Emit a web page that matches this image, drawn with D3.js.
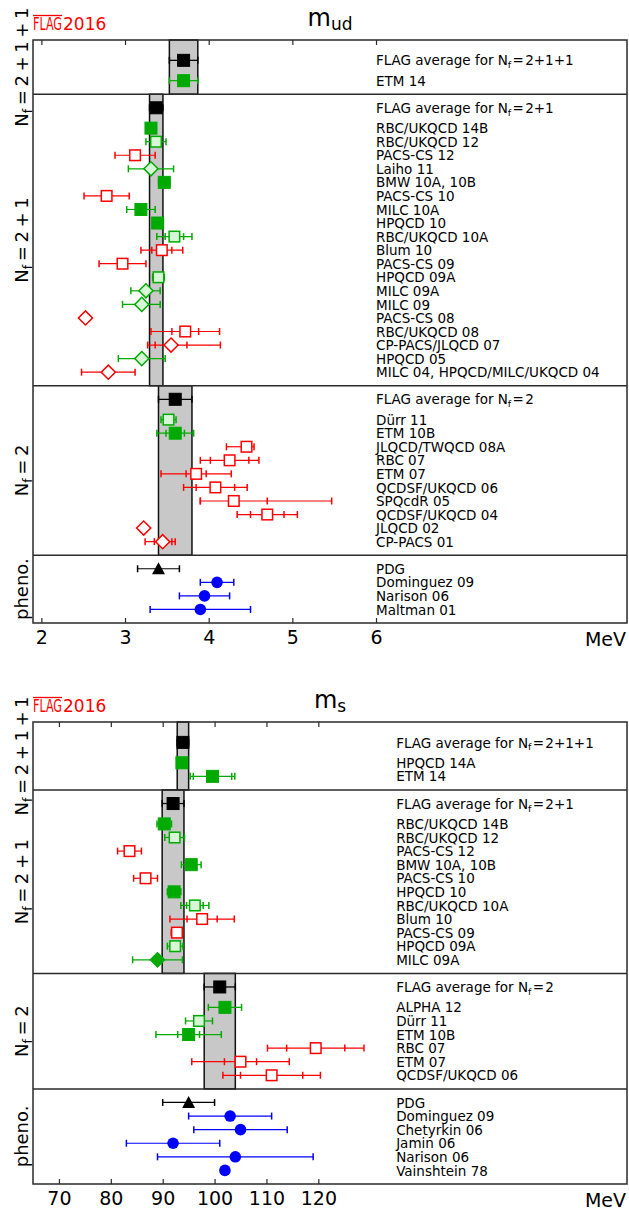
<!DOCTYPE html>
<html>
<head>
<meta charset="utf-8">
<script src="https://cdn.jsdelivr.net/npm/d3@7"></script>
<style>
body { margin: 0; background: #fff; }
svg { font-family: "DejaVu Sans", sans-serif; }
</style>
</head>
<body>
<svg id="chart" width="629" height="1212"></svg>
<script>
// row = [name, value, errLo, errHi, statLo, statHi, symbol]
var sectionNames = ["2+1+1", "2+1", "2", "pheno."];

// ---- m_ud ----
var mudTicks = [2, 3, 4, 5, 6];
var mudDomain = [1.9, 9.0];
var mudFlagValues = [3.70, 3.373, 3.6];
var mudFlagErrors = [0.17, 0.080, 0.2];
var mud2p1p1 = [
  ["ETM 14", 3.70, 0.17, 0.17, 0, 0, "gsq"]
];
var mud2p1 = [
  ["RBC/UKQCD 14B", 3.31, 0.06, 0.06, 0, 0, "gsq"],
  ["RBC/UKQCD 12", 3.37, 0.12, 0.12, 0, 0, "gsqo"],
  ["PACS-CS 12", 3.12, 0.24, 0.24, 0, 0, "rsq"],
  ["Laiho 11", 3.31, 0.27, 0.27, 0, 0, "gdo"],
  ["BMW 10A, 10B", 3.469, 0.067, 0.067, 0, 0, "gsq"],
  ["PACS-CS 10", 2.78, 0.27, 0.27, 0, 0, "rsq"],
  ["MILC 10A", 3.19, 0.17, 0.17, 0, 0, "gsq"],
  ["HPQCD 10", 3.39, 0.06, 0.06, 0, 0, "gsq"],
  ["RBC/UKQCD 10A", 3.59, 0.21, 0.21, 0.11, 0.11, "gsqo"],
  ["Blum 10", 3.44, 0.25, 0.25, 0.12, 0.12, "rsq"],
  ["PACS-CS 09", 2.97, 0.28, 0.28, 0, 0, "rsq"],
  ["HPQCD 09A", 3.40, 0.07, 0.07, 0, 0, "gsqo"],
  ["MILC 09A", 3.25, 0.18, 0.17, 0, 0, "gdo"],
  ["MILC 09", 3.2, 0.23, 0.22, 0, 0, "gdo"],
  ["PACS-CS 08", 2.527, 0.047, 0.047, 0, 0, "rd"],
  ["RBC/UKQCD 08", 3.72, 0.41, 0.41, 0.16, 0.16, "rsq"],
  ["CP-PACS/JLQCD 07", 3.55, 0.28, 0.59, 0.19, 0.19, "rd"],
  ["HPQCD 05", 3.2, 0.28, 0.28, 0, 0, "gdo"],
  ["MILC 04, HPQCD/MILC/UKQCD 04", 2.8, 0.32, 0.32, 0, 0, "rd"]
];
var mud2 = [
  ["Dürr 11", 3.52, 0.09, 0.09, 0, 0, "gsqo"],
  ["ETM 10B", 3.6, 0.22, 0.22, 0.11, 0.11, "gsq"],
  ["JLQCD/TWQCD 08A", 4.452, 0.24, 0.09, 0, 0, "rsq"],
  ["RBC 07", 4.25, 0.35, 0.35, 0.23, 0.23, "rsq"],
  ["ETM 07", 3.85, 0.42, 0.42, 0.12, 0.12, "rsq"],
  ["QCDSF/UKQCD 06", 4.08, 0.38, 0.38, 0.23, 0.23, "rsq"],
  ["SPQcdR 05", 4.3, 0.4, 1.17, 0.4, 0.4, "rsq"],
  ["QCDSF/UKQCD 04", 4.7, 0.36, 0.36, 0.2, 0.2, "rsq"],
  ["JLQCD 02", 3.223, 0.003, 0.003, 0, 0, "rd"],
  ["CP-PACS 01", 3.45, 0.21, 0.15, 0.10, 0.11, "rd"]
];
var mudPheno = [
  ["PDG", 3.4, 0.25, 0.25, 0, 0, "tri"],
  ["Dominguez 09", 4.1, 0.2, 0.2, 0, 0, "bc"],
  ["Narison 06", 3.95, 0.3, 0.3, 0, 0, "bc"],
  ["Maltman 01", 3.9, 0.6, 0.6, 0, 0, "bc"]
];

// ---- m_s ----
var msTicks = [70, 80, 90, 100, 110, 120];
var msDomain = [65, 179.5];
var msFlagValues = [93.9, 92.0, 101];
var msFlagErrors = [1.1, 2.1, 3];
var ms2p1p1 = [
  ["HPQCD 14A", 93.7, 0.8, 0.8, 0, 0, "gsq"],
  ["ETM 14", 99.6, 4.3, 4.3, 3.7, 3.7, "gsq"]
];
var ms2p1 = [
  ["RBC/UKQCD 14B", 90.3, 1.4, 1.4, 0, 0, "gsq"],
  ["RBC/UKQCD 12", 92.3, 1.9, 1.9, 0, 0, "gsqo"],
  ["PACS-CS 12", 83.6, 2.3, 2.3, 0, 0, "rsq"],
  ["BMW 10A, 10B", 95.5, 1.9, 1.9, 0, 0, "gsq"],
  ["PACS-CS 10", 86.7, 2.3, 2.3, 0, 0, "rsq"],
  ["HPQCD 10", 92.2, 1.3, 1.3, 0, 0, "gsq"],
  ["RBC/UKQCD 10A", 96.2, 2.7, 2.7, 1.6, 1.6, "gsqo"],
  ["Blum 10", 97.6, 6.2, 6.2, 2.9, 2.9, "rsq"],
  ["PACS-CS 09", 92.75, 1.1, 1.1, 0, 0, "rsq"],
  ["HPQCD 09A", 92.4, 1.5, 1.5, 0, 0, "gsqo"],
  ["MILC 09A", 89.0, 4.8, 4.8, 0, 0, "gd"]
];
var ms2 = [
  ["ALPHA 12", 102, 3.2, 3.2, 0, 0, "gsq"],
  ["Dürr 11", 97.0, 2.6, 2.6, 0, 0, "gsqo"],
  ["ETM 10B", 95, 6.3, 6.3, 2.1, 2.1, "gsq"],
  ["RBC 07", 119.5, 9.3, 9.3, 5.6, 5.6, "rsq"],
  ["ETM 07", 105, 9.4, 9.4, 3.1, 3.1, "rsq"],
  ["QCDSF/UKQCD 06", 111, 9.4, 9.4, 6, 6, "rsq"]
];
var msPheno = [
  ["PDG", 95, 5, 5, 0, 0, "tri"],
  ["Dominguez 09", 103, 8, 8, 0, 0, "bc"],
  ["Chetyrkin 06", 105, 9, 9, 0, 0, "bc"],
  ["Jamin 06", 92, 9, 9, 0, 0, "bc"],
  ["Narison 06", 104, 15, 15, 0, 0, "bc"],
  ["Vainshtein 78", 102, 0, 0, 0, 0, "bc"]
];

var GREEN = "#00aa00", LIGHTGREEN = "#d6f6d6", RED = "#ff0000", BLUE = "#0000ff";
var symbolStyle = {
  flag: {shape: "sq", fill: "#000", stroke: "#000", bar: "#000"},
  gsq:  {shape: "sq", fill: GREEN, stroke: GREEN, bar: GREEN},
  gsqo: {shape: "sqo", fill: LIGHTGREEN, stroke: GREEN, bar: GREEN},
  gdo:  {shape: "di", fill: LIGHTGREEN, stroke: GREEN, bar: GREEN},
  gd:   {shape: "di", fill: GREEN, stroke: GREEN, bar: GREEN},
  rsq:  {shape: "sqo", fill: "#fff", stroke: RED, bar: RED},
  rd:   {shape: "di", fill: "#fff", stroke: RED, bar: RED},
  tri:  {shape: "tri", fill: "#000", stroke: "#000", bar: "#000"},
  bc:   {shape: "ci", fill: BLUE, stroke: BLUE, bar: BLUE}
};

var svg = d3.select("#chart");
var FRAME = "#2a2a2a";
var LEFT = 33, RIGHT = 627;

// vertical positions in row units
function layout(sections) {
  var cursor = 0, secs = [];
  sections.forEach(function(sec, i) {
    var s = {name: sec.name, flag: sec.flag, top: cursor, rows: []};
    var pos = (i == 0) ? 1.5 : cursor + 1;
    if (sec.flag) { s.flagY = pos; pos += 1.5; }
    sec.rows.forEach(function(r, j) { s.rows.push({row: r, y: pos + j}); });
    cursor = pos + sec.rows.length;
    s.bottom = cursor;
    secs.push(s);
  });
  return {secs: secs, total: cursor};
}

function nfText(sel, before, after, fs) {
  sel.append("tspan").text(before + "N");
  sel.append("tspan").attr("font-size", fs * 0.7).attr("dy", fs * 0.22).text("f");
  sel.append("tspan").attr("dy", -fs * 0.22).text(after);
}

function drawMarker(g, style, cx, cy) {
  if (style.shape == "sq") {
    g.append("rect").attr("x", cx - 6).attr("y", cy - 6).attr("width", 12).attr("height", 12)
      .attr("fill", style.fill).attr("stroke", style.stroke).attr("stroke-width", 1);
  } else if (style.shape == "sqo") {
    g.append("rect").attr("x", cx - 5.3).attr("y", cy - 5.3).attr("width", 10.6).attr("height", 10.6)
      .attr("fill", style.fill).attr("stroke", style.stroke).attr("stroke-width", 1.5);
  } else if (style.shape == "di") {
    g.append("rect").attr("x", -5).attr("y", -5).attr("width", 10).attr("height", 10)
      .attr("transform", "translate(" + cx + "," + cy + ") rotate(45)")
      .attr("fill", style.fill).attr("stroke", style.stroke).attr("stroke-width", 1.5);
  } else if (style.shape == "tri") {
    g.append("path").attr("d", "M" + cx + "," + (cy - 6.5) + "L" + (cx + 6.5) + "," + (cy + 5.5) + "L" + (cx - 6.5) + "," + (cy + 5.5) + "Z")
      .attr("fill", style.fill);
  } else {
    g.append("circle").attr("cx", cx).attr("cy", cy).attr("r", 5.8).attr("fill", style.fill);
  }
}

function errorBar(g, x, v, lo, hi, slo, shi, cy, color, width) {
  if (lo <= 0 && hi <= 0) return;
  g.append("line").attr("x1", x(v - lo)).attr("x2", x(v + hi)).attr("y1", cy).attr("y2", cy)
    .attr("stroke", color).attr("stroke-width", width);
  var caps = [v - lo, v + hi];
  if (slo > 0) caps.push(v - slo);
  if (shi > 0) caps.push(v + shi);
  caps.forEach(function(c) {
    g.append("line").attr("x1", x(c)).attr("x2", x(c)).attr("y1", cy - 3.5).attr("y2", cy + 3.5)
      .attr("stroke", color).attr("stroke-width", 1.5);
  });
}

function drawPanel(p) {
  var x = d3.scaleLinear().domain(p.domain).range([LEFT, RIGHT]);
  var lay = layout(p.sections);
  var y = d3.scaleLinear().domain([0, lay.total]).range([p.top, p.bottom]);
  var g = svg.append("g");

  // FLAG bands
  lay.secs.forEach(function(s) {
    if (!s.flag) return;
    g.append("rect")
      .attr("x", x(s.flag[0] - s.flag[1])).attr("width", x(s.flag[0] + s.flag[1]) - x(s.flag[0] - s.flag[1]))
      .attr("y", y(s.top)).attr("height", y(s.bottom) - y(s.top))
      .attr("fill", "#c8c8c8").attr("stroke", "#111").attr("stroke-width", 1.5);
  });

  // frame + dividers
  g.append("rect").attr("x", LEFT).attr("y", p.top).attr("width", RIGHT - LEFT).attr("height", p.bottom - p.top)
    .attr("fill", "none").attr("stroke", FRAME).attr("stroke-width", 1.5);
  lay.secs.slice(1).forEach(function(s) {
    g.append("line").attr("x1", LEFT).attr("x2", RIGHT).attr("y1", y(s.top)).attr("y2", y(s.top))
      .attr("stroke", FRAME).attr("stroke-width", 1.5);
  });

  // axes
  var bottomAxis = g.append("g").attr("transform", "translate(0," + p.bottom + ")")
    .call(d3.axisBottom(x).tickValues(p.ticks).tickSizeInner(-5).tickSizeOuter(0).tickPadding(7.5));
  bottomAxis.select(".domain").remove();
  bottomAxis.attr("font-size", 19).attr("font-family", "DejaVu Sans, sans-serif");
  bottomAxis.selectAll("line").attr("stroke", FRAME).attr("stroke-width", 1.2);
  bottomAxis.selectAll("text").attr("fill", "#000");
  var topAxis = g.append("g").attr("transform", "translate(0," + p.top + ")")
    .call(d3.axisTop(x).tickValues(p.ticks).tickSizeInner(-5).tickSizeOuter(0).tickFormat(""));
  topAxis.select(".domain").remove();
  topAxis.selectAll("line").attr("stroke", FRAME).attr("stroke-width", 1.2);

  g.append("text").attr("x", RIGHT - 1).attr("y", p.bottom + 23).attr("text-anchor", "end")
    .attr("font-size", 19).text("MeV");

  // title
  var t = g.append("text").attr("x", (LEFT + RIGHT) / 2).attr("y", p.top - 14).attr("text-anchor", "middle").attr("font-size", 24);
  t.append("tspan").text("m");
  t.append("tspan").attr("font-size", 17).attr("dy", 4).text(p.sub);

  // FLAG2016 logo
  var logo = g.append("text").attr("x", LEFT).attr("y", p.top - 10).attr("font-size", 17).attr("fill", RED);
  logo.append("tspan").attr("textLength", 29).attr("lengthAdjust", "spacingAndGlyphs").text("FLAG");
  logo.append("tspan").attr("x", LEFT + 30).text("2016");
  g.append("line").attr("x1", LEFT).attr("x2", LEFT + 29).attr("y1", p.top - 24.5).attr("y2", p.top - 24.5)
    .attr("stroke", RED).attr("stroke-width", 1.3);

  // section labels (rotated)
  lay.secs.forEach(function(s) {
    var mid = (y(s.top) + y(s.bottom)) / 2;
    var lab = g.append("text").attr("transform", "translate(28," + mid + ") rotate(-90)")
      .attr("text-anchor", "middle").attr("font-size", 18);
    if (s.name == "pheno.") lab.text("pheno.");
    else nfText(lab, "", "\u2009=\u2009" + s.name.split("+").join("\u2009+\u2009"), 18);
  });

  // rows
  lay.secs.forEach(function(s) {
    if (s.flag) {
      var fy = y(s.flagY);
      errorBar(g, x, s.flag[0], s.flag[1], s.flag[1], 0, 0, fy, "#000", 1.3);
      drawMarker(g, symbolStyle.flag, x(s.flag[0]), fy);
      var ft = g.append("text").attr("x", x(p.labelX)).attr("y", fy).attr("dy", "0.38em").attr("font-size", 13.5);
      nfText(ft, "FLAG average for ", "\u200a=\u200a" + s.name, 13.5);
    }
    s.rows.forEach(function(r) {
      var d = r.row, st = symbolStyle[d[6]], cy = y(r.y);
      errorBar(g, x, d[1], d[2], d[3], d[4], d[5], cy, st.bar, 1.2);
      drawMarker(g, st, x(d[1]), cy);
      g.append("text").attr("x", x(p.labelX)).attr("y", cy).attr("dy", "0.38em").attr("font-size", 13.5).text(d[0]);
    });
  });
}

function sections(flagValues, flagErrors, rowsList) {
  return sectionNames.map(function(n, i) {
    return {name: n, flag: i < flagValues.length ? [flagValues[i], flagErrors[i]] : null, rows: rowsList[i]};
  });
}

drawPanel({
  domain: mudDomain, ticks: mudTicks, sub: "ud", labelX: 6,
  top: 40, bottom: 623,
  sections: sections(mudFlagValues, mudFlagErrors, [mud2p1p1, mud2p1, mud2, mudPheno])
});
drawPanel({
  domain: msDomain, ticks: msTicks, sub: "s", labelX: 135,
  top: 722, bottom: 1184,
  sections: sections(msFlagValues, msFlagErrors, [ms2p1p1, ms2p1, ms2, msPheno])
});
</script>
</body>
</html>
